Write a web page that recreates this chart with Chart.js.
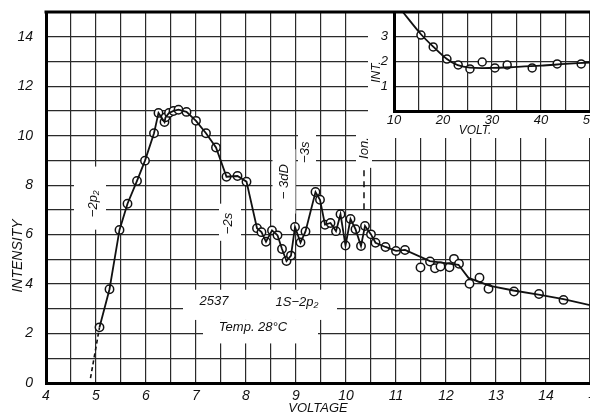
<!DOCTYPE html>
<html>
<head>
<meta charset="utf-8">
<script src="https://cdn.jsdelivr.net/npm/chart.js@4.4.1/dist/chart.umd.min.js"></script>
<style>
  html, body { margin: 0; padding: 0; background: #fff; }
  #wrap { position: relative; width: 590px; height: 413px; overflow: hidden; }
  #mainChart { position: absolute; left: 0; top: 0; }
  #insetChart { position: absolute; left: 368px; top: 0; }
</style>
</head>
<body>
<div id="wrap">
  <canvas id="mainChart" width="590" height="413"></canvas>
  <canvas id="insetChart" width="222" height="138"></canvas>
</div>
<script>
// Measured points (main plot)
const voltage = [5.07, 5.27, 5.47, 5.63, 5.82, 5.98, 6.16, 6.25, 6.37, 6.39, 6.46, 6.55, 6.65, 6.81, 7.0, 7.2, 7.4, 7.61, 7.83, 8.01,
  8.22, 8.31, 8.4, 8.52, 8.63, 8.72, 8.81, 8.9, 8.98, 9.09, 9.19, 9.39, 9.48, 9.58, 9.69, 9.8, 9.89, 9.99, 10.09, 10.19,
  10.3, 10.38, 10.5, 10.59, 10.79, 11.0, 11.18, 11.49, 11.68, 11.78, 11.89, 12.07, 12.16, 12.26, 12.47, 12.67, 12.85, 13.36, 13.86, 14.35];
const intensity = [2.25, 3.79, 6.19, 7.25, 8.17, 8.99, 10.1, 10.92, 10.55, 10.74, 10.92, 11.0, 11.05, 10.96, 10.6, 10.1, 9.52, 8.34, 8.37, 8.14,
  6.26, 6.1, 5.71, 6.17, 5.97, 5.42, 4.93, 5.15, 6.31, 5.68, 6.13, 7.72, 7.41, 6.4, 6.47, 6.14, 6.82, 5.56, 6.63, 6.22,
  5.54, 6.35, 6.01, 5.67, 5.5, 5.34, 5.38, 4.67, 4.91, 4.64, 4.71, 4.68, 5.02, 4.82, 4.01, 4.26, 3.81, 3.7, 3.6, 3.36];
// last point that the drawn line passes through, after it the smooth curve
const lastJoinedVoltage = 11.18;
const fitVoltage = [11.68, 12.25, 12.45, 12.88, 13.35, 13.88, 14.35, 14.88];
const fitIntensity = [4.93, 4.78, 4.25, 3.93, 3.74, 3.56, 3.39, 3.15];
// dashed extrapolation to the axis
const onsetVoltage = [4.89, 5.07];
const onsetIntensity = [0.2, 2.25];

const xTickLabels = [4, 5, 6, 7, 8, 9, 10, 11, 12, 13, 14, 15];
const yTickLabels = [0, 2, 4, 6, 8, 10, 12, 14];

// Inset (high voltage)
const insetVoltage = [15.5, 18.0, 20.8, 23.1, 25.5, 28.0, 30.6, 33.1, 38.2, 43.3, 48.2];
const insetIntensity = [3.07, 2.59, 2.1, 1.86, 1.7, 1.98, 1.74, 1.86, 1.74, 1.9, 1.9];
const insetFitVoltage = [11.8, 15.5, 18.0, 20.8, 23.0, 25.5, 30.0, 35.0, 40.0, 45.0, 50.0];
const insetFitIntensity = [4.0, 3.1, 2.6, 2.1, 1.85, 1.75, 1.74, 1.78, 1.83, 1.9, 1.96];
const insetXTickLabels = [10, 20, 30, 40, 50];
const insetYTickLabels = [1, 2, 3];

const ink = '#111';
const gridInk = '#2a2a2a';
const labelFont = 'italic 14px "Liberation Sans", Arial, sans-serif';
const noteFont = 'italic 13px "Liberation Sans", Arial, sans-serif';

const toPoints = (xs, ys) => xs.map((x, i) => ({ x: x, y: ys[i] }));

const joinIndex = voltage.indexOf(lastJoinedVoltage);
const curveData = toPoints(voltage.slice(0, joinIndex + 1), intensity.slice(0, joinIndex + 1))
  .concat(toPoints(fitVoltage, fitIntensity));

function drawText(ctx, text, x, y, rotated, font) {
  ctx.save();
  ctx.font = font || noteFont;
  ctx.fillStyle = ink;
  ctx.textAlign = 'center';
  ctx.textBaseline = 'middle';
  ctx.translate(x, y);
  if (rotated) ctx.rotate(-Math.PI / 2);
  ctx.fillText(text, 0, 0);
  ctx.restore();
}

const paperPlugin = {
  id: 'paper',
  beforeDraw(chart) {
    const ctx = chart.ctx;
    ctx.save();
    ctx.fillStyle = '#fff';
    ctx.fillRect(0, 0, chart.width, chart.height);
    ctx.restore();
  },
  beforeDatasetsDraw(chart) {
    const ctx = chart.ctx, xs = chart.scales.x, ys = chart.scales.y;
    const blank = (v0, v1, i0, i1) => {
      const x0 = xs.getPixelForValue(v0), x1 = xs.getPixelForValue(v1);
      const y0 = ys.getPixelForValue(i0), y1 = ys.getPixelForValue(i1);
      ctx.fillRect(x0, y0, x1 - x0, y1 - y0);
    };
    ctx.save();
    ctx.fillStyle = '#fff';
    blank(4.56, 5.2, 8.75, 6.2);
    blank(7.46, 7.9, 7.25, 5.75);
    blank(8.53, 8.99, 9.45, 6.85);
    blank(9.04, 9.4, 10.16, 8.55);
    blank(10.2, 10.52, 10.3, 8.7);
    blank(6.74, 9.82, 3.77, 2.55);
    blank(7.14, 9.44, 2.55, 1.6);
    ctx.restore();
  },
  afterDatasetsDraw(chart) {
    const ctx = chart.ctx, xs = chart.scales.x, ys = chart.scales.y, area = chart.chartArea;
    const px = v => xs.getPixelForValue(v), py = i => ys.getPixelForValue(i);

    // heavy top frame line
    ctx.save();
    ctx.strokeStyle = '#000';
    ctx.lineWidth = 3;
    ctx.beginPath();
    ctx.moveTo(area.left - 1.5, area.top);
    ctx.lineTo(area.right, area.top);
    ctx.stroke();

    // ionisation mark
    ctx.lineWidth = 1.4;
    ctx.setLineDash([6, 5]);
    ctx.beginPath();
    ctx.moveTo(px(10.36), py(8.6));
    ctx.lineTo(px(10.36), py(6.9));
    ctx.stroke();
    ctx.restore();

    drawText(ctx, '\u22122p\u2082', px(4.94), py(7.25), true);
    drawText(ctx, '\u22122s', px(7.65), py(6.45), true);
    drawText(ctx, '\u2212 3dD', px(8.77), py(8.14), true);
    drawText(ctx, '\u22123s', px(9.19), py(9.33), true);
    drawText(ctx, 'Ion.', px(10.36), py(9.5), true);

    drawText(ctx, '2537', px(7.36), py(3.28));
    drawText(ctx, '1S\u22122p\u2082', px(9.02), py(3.24));
    drawText(ctx, 'Temp. 28\u00b0C', px(8.14), py(2.23));

    // tick label past the cut-off right edge
    xTickLabels.filter(v => v > xs.max).forEach(v => {
      drawText(ctx, String(v), px(v), 394, false, labelFont);
    });

    drawText(ctx, 'INTENSITY', 18, 256, true, labelFont);
    drawText(ctx, 'VOLTAGE', (area.left + area.right) / 2, 408, false, noteFont);
  }
};

const mainChart = new Chart(document.getElementById('mainChart'), {
  type: 'scatter',
  data: {
    datasets: [
      {
        data: curveData,
        showLine: true,
        borderColor: ink,
        borderWidth: 1.8,
        pointRadius: 0,
        tension: 0
      },
      {
        data: toPoints(onsetVoltage, onsetIntensity),
        showLine: true,
        borderColor: ink,
        borderWidth: 1.6,
        borderDash: [4, 3],
        pointRadius: 0
      },
      {
        data: toPoints(voltage, intensity),
        showLine: false,
        pointRadius: 4.2,
        pointBackgroundColor: '#fff',
        pointBorderColor: ink,
        pointBorderWidth: 1.5
      }
    ]
  },
  options: {
    responsive: false,
    animation: false,
    layout: { autoPadding: false, padding: { top: 12, right: 0, bottom: 0, left: 0 } },
    plugins: {
      legend: { display: false },
      tooltip: { enabled: false }
    },
    scales: {
      x: {
        type: 'linear',
        min: 4,
        max: 14.88,
        afterFit: function (scale) {
          scale.height = 30;
          scale.paddingLeft = 0;
          scale.paddingRight = 0;
        },
        grid: { color: gridInk, lineWidth: 1.2, drawTicks: false },
        border: { display: true, color: '#000', width: 3 },
        ticks: {
          stepSize: 0.5,
          autoSkip: false,
          maxRotation: 0,
          padding: 5,
          color: ink,
          font: { family: '"Liberation Sans", Arial, sans-serif', size: 14, style: 'italic' },
          callback: function (value) {
            return xTickLabels.includes(value) ? String(value) : '';
          }
        }
      },
      y: {
        min: 0,
        max: 15,
        afterFit: function (scale) {
          scale.width = 46;
          scale.paddingTop = 0;
          scale.paddingBottom = 0;
        },
        grid: { color: gridInk, lineWidth: 1.2, drawTicks: false },
        border: { display: true, color: '#000', width: 3 },
        ticks: {
          stepSize: 1,
          autoSkip: false,
          padding: 13,
          color: ink,
          font: { family: '"Liberation Sans", Arial, sans-serif', size: 14, style: 'italic' },
          callback: function (value) {
            return yTickLabels.includes(value) ? String(value) : '';
          }
        }
      }
    }
  },
  plugins: [paperPlugin]
});

const insetPlugin = {
  id: 'insetPaper',
  beforeDraw(chart) {
    const ctx = chart.ctx;
    ctx.save();
    ctx.fillStyle = '#fff';
    ctx.fillRect(0, 0, chart.width, chart.height);
    ctx.restore();
  },
  afterDraw(chart) {
    const ctx = chart.ctx, area = chart.chartArea;
    ctx.save();
    ctx.strokeStyle = '#000';
    ctx.lineWidth = 3;
    ctx.beginPath();
    ctx.moveTo(0, area.top);
    ctx.lineTo(chart.width, area.top);
    ctx.stroke();
    ctx.restore();
    drawText(ctx, 'INT.', 9, 72, true, 'italic 12px "Liberation Sans", Arial, sans-serif');
    drawText(ctx, 'VOLT.', 107, 131, false, 'italic 12px "Liberation Sans", Arial, sans-serif');
  }
};

const insetChart = new Chart(document.getElementById('insetChart'), {
  type: 'scatter',
  data: {
    datasets: [
      {
        data: toPoints(insetFitVoltage, insetFitIntensity),
        showLine: true,
        borderColor: ink,
        borderWidth: 1.8,
        pointRadius: 0,
        tension: 0.35
      },
      {
        data: toPoints(insetVoltage, insetIntensity),
        showLine: false,
        pointRadius: 4,
        pointBackgroundColor: '#fff',
        pointBorderColor: ink,
        pointBorderWidth: 1.5
      }
    ]
  },
  options: {
    responsive: false,
    animation: false,
    layout: { autoPadding: false, padding: { top: 12, right: 0, bottom: 0, left: 0 } },
    plugins: {
      legend: { display: false },
      tooltip: { enabled: false }
    },
    scales: {
      x: {
        type: 'linear',
        min: 10,
        max: 50,
        afterFit: function (scale) {
          scale.height = 27;
          scale.paddingLeft = 0;
          scale.paddingRight = 0;
        },
        grid: { color: gridInk, lineWidth: 1.2, drawTicks: false },
        border: { display: true, color: '#000', width: 3 },
        ticks: {
          stepSize: 5,
          autoSkip: false,
          maxRotation: 0,
          padding: 2,
          color: ink,
          font: { family: '"Liberation Sans", Arial, sans-serif', size: 13, style: 'italic' },
          callback: function (value) {
            return insetXTickLabels.includes(value) ? String(value) : '';
          }
        }
      },
      y: {
        min: 0,
        max: 4,
        afterFit: function (scale) {
          scale.width = 26;
          scale.paddingTop = 0;
          scale.paddingBottom = 0;
        },
        grid: { color: gridInk, lineWidth: 1.2, drawTicks: false },
        border: { display: true, color: '#000', width: 3 },
        ticks: {
          stepSize: 1,
          autoSkip: false,
          padding: 6,
          color: ink,
          font: { family: '"Liberation Sans", Arial, sans-serif', size: 13, style: 'italic' },
          callback: function (value) {
            return insetYTickLabels.includes(value) ? String(value) : '';
          }
        }
      }
    }
  },
  plugins: [insetPlugin]
});
</script>
</body>
</html>
